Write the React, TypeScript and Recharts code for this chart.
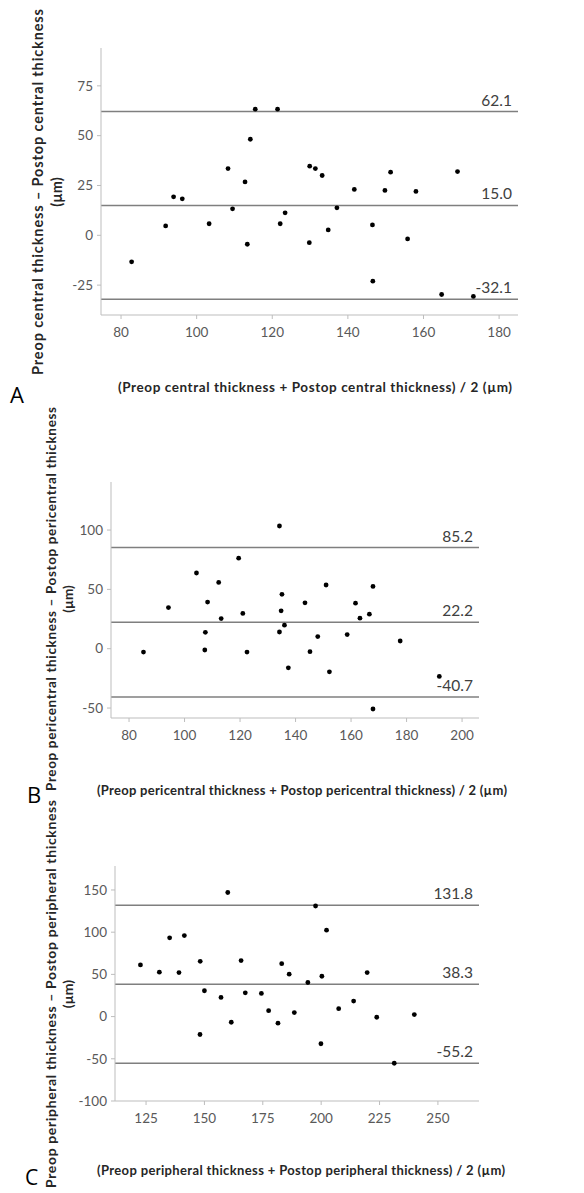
import React from 'react';
import { ScatterChart, Scatter, XAxis, YAxis, ReferenceLine } from 'recharts';

const FONT = 'Lato, "Open Sans", sans-serif';

// ---- Panel A: central thickness ----
const centralMean = [82.8, 91.8, 93.9, 96.2, 103.3, 108.3, 109.5, 112.8, 113.4, 114.2, 115.5, 121.4, 122.1, 123.4, 129.8, 129.9, 131.4, 133.2, 134.8, 137.1, 141.7, 146.5, 146.6, 149.8, 151.3, 155.8, 158.0, 164.8, 169.0, 173.2];
const centralDiff = [-13.3, 4.7, 19.3, 18.3, 5.8, 33.5, 13.3, 26.8, -4.5, 48.2, 63.3, 63.3, 5.8, 11.3, -3.7, 34.7, 33.5, 30.0, 2.7, 13.8, 23.0, 5.2, -23.0, 22.5, 31.7, -1.8, 22.0, -29.7, 32.0, -30.7];
const centralLimits = [62.1, 15.0, -32.1];
const centralXTicks = [80, 100, 120, 140, 160, 180];
const centralYTicks = [-25, 0, 25, 50, 75];

// ---- Panel B: pericentral thickness ----
const pericentralMean = [85.2, 94.2, 104.3, 107.3, 107.5, 108.3, 112.3, 113.2, 119.5, 121.0, 122.5, 134.2, 134.2, 134.8, 135.1, 136.0, 137.4, 143.4, 145.2, 148.0, 151.0, 152.2, 158.6, 161.6, 163.2, 166.6, 167.9, 167.9, 177.7, 191.8];
const pericentralDiff = [-2.8, 34.7, 63.8, -1.1, 13.8, 39.3, 55.9, 25.4, 76.3, 29.7, -2.8, 103.4, 14.1, 31.9, 45.8, 19.8, -16.1, 38.7, -2.5, 10.2, 53.7, -19.5, 11.9, 38.4, 25.7, 29.1, 52.5, -50.8, 6.5, -23.4];
const pericentralLimits = [85.2, 22.2, -40.7];
const pericentralXTicks = [80, 100, 120, 140, 160, 180, 200];
const pericentralYTicks = [-50, 0, 50, 100];

// ---- Panel C: peripheral thickness ----
const peripheralMean = [122.6, 130.7, 135.1, 139.1, 141.4, 148.1, 148.2, 150.0, 157.1, 160.0, 161.5, 165.7, 167.5, 174.4, 177.5, 181.5, 183.1, 186.3, 188.5, 194.3, 197.6, 199.9, 200.3, 202.3, 207.5, 213.9, 219.7, 223.8, 231.3, 239.9];
const peripheralDiff = [61.2, 52.6, 93.3, 52.1, 96.0, -21.2, 65.5, 30.6, 22.7, 147.0, -6.7, 66.3, 28.2, 27.5, 7.0, -7.8, 62.7, 50.2, 4.7, 40.4, 131.0, -32.2, 47.8, 102.4, 9.4, 18.4, 52.1, -0.8, -55.3, 2.4];
const peripheralLimits = [131.8, 38.3, -55.2];
const peripheralXTicks = [125, 150, 175, 200, 225, 250];
const peripheralYTicks = [-100, -50, 0, 50, 100, 150];

const panels = [
  {
    key: 'A',
    top: 0, height: 400,
    margin: { top: 48, right: 66, left: 61, bottom: 55 },
    xDomain: [74.7, 185.0], yDomain: [-40, 94],
    mean: centralMean, diff: centralDiff, limits: centralLimits,
    xTicks: centralXTicks, yTicks: centralYTicks,
  },
  {
    key: 'B',
    top: 400, height: 410,
    margin: { top: 82, right: 105, left: 71, bottom: 62 },
    xDomain: [73.5, 206.1], yDomain: [-58.4, 140.5],
    mean: pericentralMean, diff: pericentralDiff, limits: pericentralLimits,
    xTicks: pericentralXTicks, yTicks: pericentralYTicks,
  },
  {
    key: 'C',
    top: 790, height: 403,
    margin: { top: 76, right: 105, left: 75, bottom: 62 },
    xDomain: [111.7, 267.6], yDomain: [-100, 178.4],
    mean: peripheralMean, diff: peripheralDiff, limits: peripheralLimits,
    xTicks: peripheralXTicks, yTicks: peripheralYTicks,
  },
];

const Dot = (props: any) => <circle cx={props.cx} cy={props.cy} r={2.4} fill="#000" />;

const limitLabel = (text: string) => (props: any) => {
  const vb = props.viewBox || {};
  return (
    <text x={vb.x + vb.width - 6} y={vb.y - 6} textAnchor="end" fill="#404040" fontSize={15.5} fontFamily={FONT}>
      {text}
    </text>
  );
};

function Panel({ cfg }: { cfg: any }) {
  const data = cfg.mean.map((x: number, i: number) => ({ x, y: cfg.diff[i] }));
  const tick = { fill: '#595959', fontSize: 13.5, fontFamily: FONT };
  return (
    <div style={{ position: 'absolute', left: 0, top: cfg.top, width: 584, height: cfg.height }}>
      <ScatterChart width={584} height={cfg.height} margin={cfg.margin}>
        <XAxis
          type="number" dataKey="x" domain={cfg.xDomain} ticks={cfg.xTicks} allowDataOverflow interval={0}
          height={30} stroke="#bdbdbd" tick={tick} tickSize={4} tickMargin={8}
        />
        <YAxis
          type="number" dataKey="y" domain={cfg.yDomain} ticks={cfg.yTicks} allowDataOverflow interval={0}
          width={40} stroke="#bdbdbd" tick={tick} tickSize={4} tickMargin={4}
        />
        {cfg.limits.map((v: number) => (
          <ReferenceLine key={v} y={v} stroke="#7f7f7f" strokeWidth={1.5} label={limitLabel(v.toFixed(1))} />
        ))}
        <Scatter data={data} shape={Dot} isAnimationActive={false} />
      </ScatterChart>
    </div>
  );
}

const titles = [
  { line1: 'Preop central thickness \u2013 Postop central thickness', cx1: 37, cx2: 56, cy: 192, len: 366, fs: 14.5,
    xt: '(Preop central thickness + Postop central thickness) / 2 (\u00b5m)', xcx: 315, xcy: 387, xlen: 394, xfs: 13.5,
    letter: 'A', lx: 10, ly: 403, lfs: 22 },
  { line1: 'Preop pericentral thickness \u2013 Postop pericentral thickness', cx1: 51, cx2: 68, cy: 599, len: 384, fs: 13.5,
    xt: '(Preop pericentral thickness + Postop pericentral thickness) / 2 (\u00b5m)', xcx: 302, xcy: 790, xlen: 410, xfs: 13,
    letter: 'B', lx: 27, ly: 803, lfs: 22 },
  { line1: 'Preop peripheral thickness \u2013 Postop peripheral thickness', cx1: 50, cx2: 67, cy: 994, len: 388, fs: 14,
    xt: '(Preop peripheral thickness + Postop peripheral thickness) / 2 (\u00b5m)', xcx: 301, xcy: 1170, xlen: 408, xfs: 13,
    letter: 'C', lx: 25, ly: 1185, lfs: 21 },
];

export default function App() {
  return (
    <div style={{ position: 'absolute', left: 0, top: 0, width: 584, height: 1193, background: '#fff', overflow: 'hidden' }}>
      {panels.map((p) => (
        <Panel key={p.key} cfg={p} />
      ))}
      <svg width={584} height={1193} style={{ position: 'absolute', left: 0, top: 0, pointerEvents: 'none' }}>
        {titles.map((t) => (
          <g key={t.letter} fontFamily={FONT}>
            <text
              x={t.cx1} y={t.cy} transform={`rotate(-90 ${t.cx1} ${t.cy})`} textAnchor="middle" dominantBaseline="central"
              fontWeight="bold" fontSize={t.fs} fill="#262626" textLength={t.len}
            >
              {t.line1}
            </text>
            <text
              x={t.cx2} y={t.cy} transform={`rotate(-90 ${t.cx2} ${t.cy})`} textAnchor="middle" dominantBaseline="central"
              fontWeight="bold" fontSize={t.fs} fill="#262626"
            >
              (µm)
            </text>
            <text
              x={t.xcx} y={t.xcy} textAnchor="middle" dominantBaseline="central"
              fontWeight="bold" fontSize={t.xfs} fill="#262626" textLength={t.xlen}
            >
              {t.xt}
            </text>
            <text x={t.lx} y={t.ly} fontSize={t.lfs} fill="#000" fontFamily='"Open Sans", Lato, sans-serif'>
              {t.letter}
            </text>
          </g>
        ))}
      </svg>
    </div>
  );
}
